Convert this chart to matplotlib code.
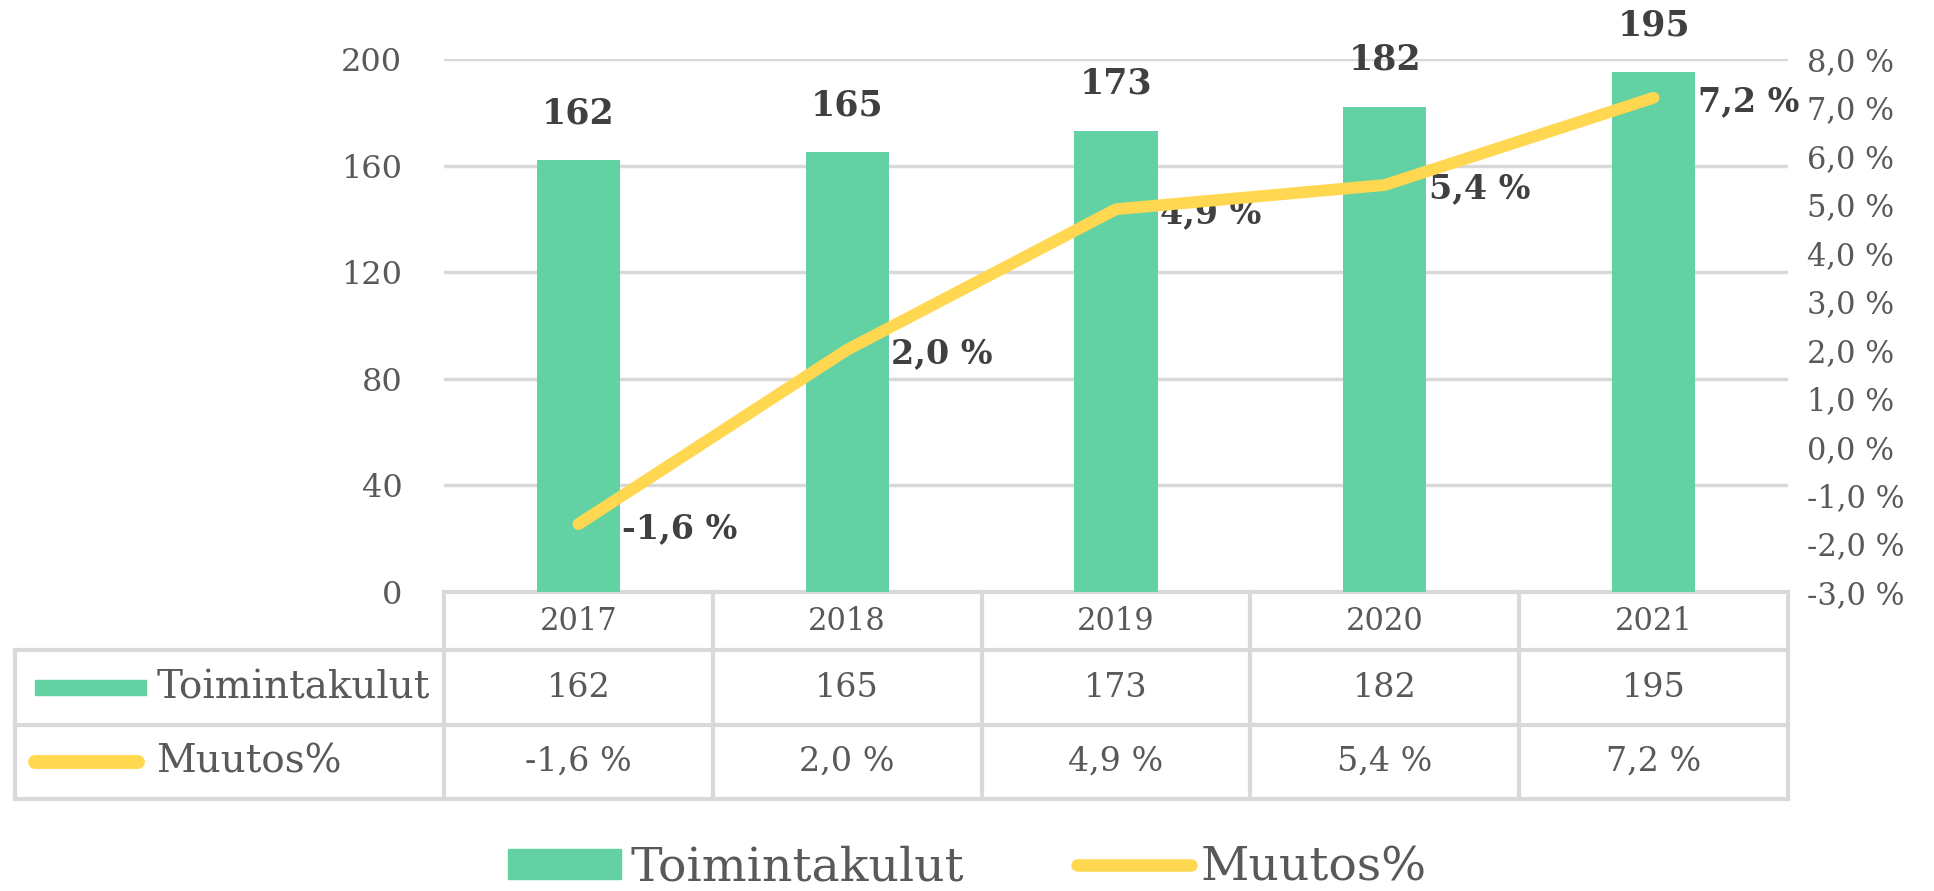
import matplotlib.pyplot as plt
import matplotlib.transforms as mtransforms
from matplotlib.patches import Rectangle
from matplotlib.lines import Line2D

years = ['2017', '2018', '2019', '2020', '2021']
kulut = [162, 165, 173, 182, 195]
muutos = [-1.6, 2.0, 4.9, 5.4, 7.2]
kulut_labels = ['162', '165', '173', '182', '195']
muutos_labels = ['-1,6 %', '2,0 %', '4,9 %', '5,4 %', '7,2 %']
left_ticks = [0, 40, 80, 120, 160, 200]
right_ticks = [-3, -2, -1, 0, 1, 2, 3, 4, 5, 6, 7, 8]

green = '#62d2a5'
yellow = '#ffd750'
grid_c = '#d9d9d9'
txt = '#404040'
tick_c = '#595959'

plt.rcParams['font.family'] = ['DejaVu Serif']

fig = plt.figure(figsize=(19.34, 8.91), dpi=100)
ax = fig.add_axes([444/1934, 1-592/891, 1344/1934, 533/891])
ax2 = ax.twinx()

x = list(range(len(years)))
ax.bar(x, kulut, width=0.31, color=green, zorder=3)
ax.set_xlim(-0.5, 4.5)
ax.set_ylim(0, 200)
ax.set_yticks(left_ticks)
ax.set_yticklabels([str(t) for t in left_ticks], fontsize=23, color=tick_c)
ax.tick_params(axis='y', length=0, pad=30)
ax.set_xticks([])
for t in left_ticks:
    ax.axhline(t, color=grid_c, lw=2.5, zorder=1)
for s in ax.spines.values():
    s.set_visible(False)
for s in ax2.spines.values():
    s.set_visible(False)

# labels above bars
for xi, v, lab in zip(x, kulut, kulut_labels):
    ax.annotate(lab, (xi, v), xytext=(0, 30), textcoords='offset pixels',
                ha='center', va='bottom', fontsize=25, fontweight='bold', color=txt)

ax2.plot(x, muutos, color=yellow, lw=8.5, solid_capstyle='round', zorder=4)
ax2.set_ylim(-3, 8)
ax2.set_yticks(right_ticks)
ax2.set_yticklabels([f'{t},0 %' for t in right_ticks], fontsize=22, color=tick_c)
ax2.tick_params(axis='y', length=0, pad=14)
for xi, v, lab in zip(x, muutos, muutos_labels):
    ax2.annotate(lab, (xi, v), xytext=(44, -4), textcoords='offset pixels',
                 ha='left', va='center', fontsize=24, fontweight='bold', color=txt)

# data table below the plot
tr = mtransforms.blended_transform_factory(ax.transData, ax.transAxes)
tl = -2.096
r1, r2, r3 = -0.109, -0.250, -0.388
lk = dict(color=grid_c, lw=3, transform=tr, clip_on=False)
ax.add_line(Line2D([-0.5, 4.5], [0, 0], **lk))
for yy in (r1, r2, r3):
    ax.add_line(Line2D([tl, 4.5], [yy, yy], **lk))
for xx in [i - 0.5 for i in range(len(years) + 1)]:
    ax.add_line(Line2D([xx, xx], [0, r3], **lk))
ax.add_line(Line2D([tl, tl], [r1, r3], **lk))

for xi, y, k, m in zip(x, years, kulut_labels, muutos_labels):
    ax.text(xi, (0 + r1) / 2, y, transform=tr, ha='center', va='center', fontsize=22, color=tick_c)
    ax.text(xi, (r1 + r2) / 2, k, transform=tr, ha='center', va='center', fontsize=24, color=tick_c)
    ax.text(xi, (r2 + r3) / 2, m, transform=tr, ha='center', va='center', fontsize=24, color=tick_c)

# legend keys inside the table
ax.add_patch(Rectangle((-2.02, (r1 + r2) / 2 - 0.014), 0.41, 0.028, color=green,
                       transform=tr, clip_on=False))
ax.add_line(Line2D([-2.02, -1.64], [(r2 + r3) / 2, (r2 + r3) / 2], color=yellow, lw=10,
                   solid_capstyle='round', transform=tr, clip_on=False))
ax.text(-1.57, (r1 + r2) / 2, 'Toimintakulut', transform=tr, ha='left', va='center',
        fontsize=28, color=tick_c)
ax.text(-1.57, (r2 + r3) / 2, 'Muutos%', transform=tr, ha='left', va='center',
        fontsize=28, color=tick_c)

handles = [Rectangle((0, 0), 1, 1, color=green),
           Line2D([0], [0], color=yellow, lw=9, solid_capstyle='round')]
fig.legend(handles, ['Toimintakulut', 'Muutos%'], loc='center', bbox_to_anchor=(0.5, 1-868/891),
           ncol=2, frameon=False, fontsize=34, handlelength=2.4, handleheight=0.6,
           handletextpad=0.2, columnspacing=2.4, labelcolor=tick_c)

fig.savefig('out.png', dpi=100)
